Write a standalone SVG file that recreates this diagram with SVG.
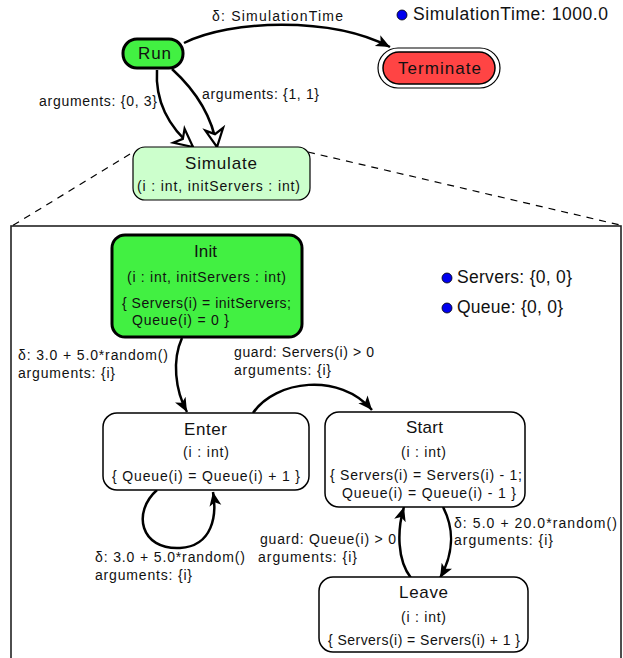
<svg xmlns="http://www.w3.org/2000/svg" width="623" height="658" viewBox="0 0 623 658">
<style>
text{font-family:"Liberation Sans",Arial,sans-serif;fill:#111}
.t{font-size:17px}
.p{font-size:14px}
.l{font-size:14px}
.g{font-size:17.5px}
.node{stroke:#000;stroke-width:1.5;fill:#fff}
.edge{fill:none;stroke:#000;stroke-width:2.5}
.dot{fill:#0000ee;stroke:#000;stroke-width:0.8}
</style>
<defs>
<marker id="ah" markerUnits="userSpaceOnUse" markerWidth="16" markerHeight="14" refX="14" refY="6" orient="auto">
<path d="M0,0 L14,6 L0,12 L3.5,6 z" fill="#000"/>
</marker>
<marker id="oh" markerUnits="userSpaceOnUse" markerWidth="22" markerHeight="22" refX="19" refY="10" orient="auto" overflow="visible">
<path d="M1,1 L19,10 L1,19 L6,10 z" fill="#fff" stroke="#000" stroke-width="2.2" stroke-linejoin="miter"/>
</marker>
</defs>

<rect x="11" y="226" width="610" height="460" fill="#fff" stroke="#222" stroke-width="1.6"/>
<g id="zoomlines" stroke="#000" stroke-width="1.2" stroke-dasharray="7,6" fill="none">
<line x1="130" y1="154" x2="12" y2="226"/>
<line x1="308" y1="152" x2="620" y2="225"/>
</g>

<g id="connectors">
<path class="edge" d="M184,43 C230,20 330,16 390,47" marker-end="url(#ah)"/>
<path class="edge" d="M157,70 C155,100 168,127 193,147" marker-end="url(#oh)"/>
<path class="edge" d="M172,69 C195,90 212,115 217,147" marker-end="url(#oh)"/>
<path class="edge" d="M182,338 C172,360 175,390 187,412" marker-end="url(#ah)"/>
<path class="edge" d="M253,413 C275,380 340,372 372,410" marker-end="url(#ah)"/>
<path class="edge" d="M157,490 C132,512 140,550 180,548 C213,546 217,515 213,492" marker-end="url(#ah)"/>
<path class="edge" d="M443,507 C455,530 453,555 440,578" marker-end="url(#ah)"/>
<path class="edge" d="M411,578 C397,560 397,530 404,507" marker-end="url(#ah)"/>
</g>

<g id="edge-labels">
<text class="l" x="212" y="21" textLength="131" lengthAdjust="spacing">δ: SimulationTime</text>
<text class="l" x="39" y="106" textLength="118" lengthAdjust="spacing">arguments: {0, 3}</text>
<text class="l" x="202" y="99" textLength="117" lengthAdjust="spacing">arguments: {1, 1}</text>
<text class="l" x="18" y="360" textLength="150" lengthAdjust="spacing">δ: 3.0 + 5.0*random()</text>
<text class="l" x="18" y="378" textLength="97" lengthAdjust="spacing">arguments: {i}</text>
<text class="l" x="234" y="357" textLength="140" lengthAdjust="spacing">guard: Servers(i) &gt; 0</text>
<text class="l" x="234" y="375" textLength="97" lengthAdjust="spacing">arguments: {i}</text>
<text class="l" x="95" y="562" textLength="150" lengthAdjust="spacing">δ: 3.0 + 5.0*random()</text>
<text class="l" x="95" y="580" textLength="97" lengthAdjust="spacing">arguments: {i}</text>
<text class="l" x="260" y="544" textLength="136" lengthAdjust="spacing">guard: Queue(i) &gt; 0</text>
<text class="l" x="258" y="562" textLength="99" lengthAdjust="spacing">arguments: {i}</text>
<text class="l" x="454" y="528" textLength="163" lengthAdjust="spacing">δ: 5.0 + 20.0*random()</text>
<text class="l" x="454" y="545" textLength="99" lengthAdjust="spacing">arguments: {i}</text>
</g>

<g id="legend-time">
<circle class="dot" cx="402" cy="15" r="5"/>
<text class="g" x="413" y="20" textLength="195" lengthAdjust="spacing">SimulationTime: 1000.0</text>
</g>
<g id="legend-vars">
<circle class="dot" cx="447" cy="278" r="5"/>
<text class="g" x="457" y="283" textLength="115" lengthAdjust="spacing">Servers: {0, 0}</text>
<circle class="dot" cx="447" cy="308" r="5"/>
<text class="g" x="457" y="313" textLength="106" lengthAdjust="spacing">Queue: {0, 0}</text>
</g>

<g id="node-run">
<rect x="123" y="39" width="60" height="29" rx="14" fill="#42f042" stroke="#000" stroke-width="3"/>
<text class="t" x="138" y="59" textLength="33" lengthAdjust="spacing">Run</text>
</g>

<g id="node-terminate">
<rect x="378" y="48" width="122" height="40" rx="20" fill="#fff" stroke="#000" stroke-width="1.2"/>
<rect x="383" y="52" width="112" height="32" rx="16" fill="#ff4444" stroke="#000" stroke-width="1.5"/>
<text class="t" x="398" y="74" textLength="83" lengthAdjust="spacing">Terminate</text>
</g>

<g id="node-simulate">
<rect x="133" y="147" width="177" height="53" rx="12" fill="#ccffcc" stroke="#000" stroke-width="1.2"/>
<text class="t" x="185" y="169" textLength="72" lengthAdjust="spacing">Simulate</text>
<text class="p" x="137" y="191" textLength="163" lengthAdjust="spacing">(i : int, initServers : int)</text>
</g>

<g id="node-init">
<rect x="112" y="235" width="190" height="102" rx="13" fill="#42f042" stroke="#000" stroke-width="3"/>
<text class="t" x="194" y="257" textLength="23" lengthAdjust="spacing">Init</text>
<text class="p" x="127" y="282" textLength="159" lengthAdjust="spacing">(i : int, initServers : int)</text>
<text class="p" x="122" y="308" textLength="169" lengthAdjust="spacing">{ Servers(i) = initServers;</text>
<text class="p" x="132" y="325" textLength="97" lengthAdjust="spacing">Queue(i) = 0 }</text>
</g>

<g id="node-enter">
<rect class="node" x="103" y="413" width="206" height="77" rx="14"/>
<text class="t" x="184" y="435" textLength="43" lengthAdjust="spacing">Enter</text>
<text class="p" x="183" y="457" textLength="46" lengthAdjust="spacing">(i : int)</text>
<text class="p" x="112" y="481" textLength="188" lengthAdjust="spacing">{ Queue(i) = Queue(i) + 1 }</text>
</g>

<g id="node-start">
<rect class="node" x="325" y="412" width="200" height="95" rx="14"/>
<text class="t" x="406" y="433" textLength="37" lengthAdjust="spacing">Start</text>
<text class="p" x="401" y="457" textLength="45" lengthAdjust="spacing">(i : int)</text>
<text class="p" x="330" y="480" textLength="192" lengthAdjust="spacing">{ Servers(i) = Servers(i) - 1;</text>
<text class="p" x="342" y="498" textLength="174" lengthAdjust="spacing">Queue(i) = Queue(i) - 1 }</text>
</g>

<g id="node-leave">
<rect class="node" x="319" y="577" width="209" height="75" rx="14"/>
<text class="t" x="399" y="598" textLength="49" lengthAdjust="spacing">Leave</text>
<text class="p" x="401" y="622" textLength="45" lengthAdjust="spacing">(i : int)</text>
<text class="p" x="328" y="645" textLength="192" lengthAdjust="spacing">{ Servers(i) = Servers(i) + 1 }</text>
</g>
</svg>
